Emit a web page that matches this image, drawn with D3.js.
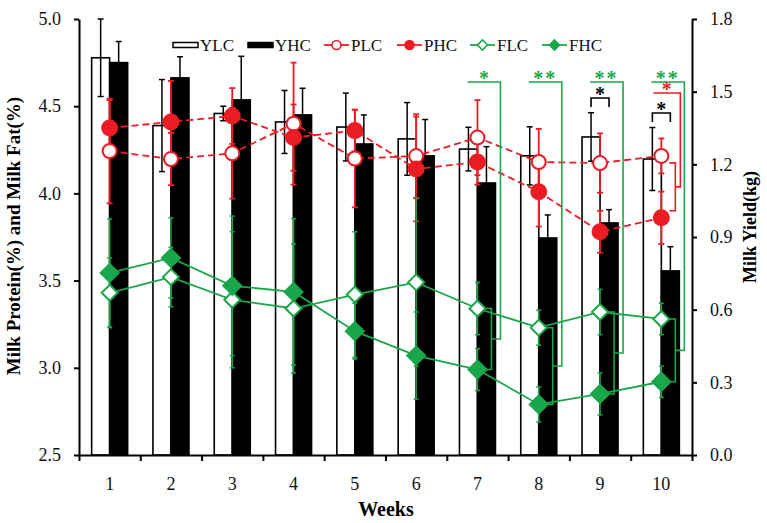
<!DOCTYPE html>
<html>
<head>
<meta charset="utf-8">
<script src="https://cdn.jsdelivr.net/npm/d3@7"></script>
<style>
body { margin: 0; background: #fff; }
text { font-family: "Liberation Serif", "Times New Roman", serif; }
</style>
</head>
<body>
<div id="chart"></div>
<script>
// values
var weeks = [1, 2, 3, 4, 5, 6, 7, 8, 9, 10];

// milk yield (kg), right axis
var ylc    = [1.64, 1.36, 1.41, 1.375, 1.354, 1.305, 1.263, 1.235, 1.313, 1.222];
var ylcErr = [0.16, 0.19, 0.03, 0.13, 0.14, 0.15, 0.09, 0.12, 0.10, 0.13];
var yhc    = [1.62, 1.557, 1.466, 1.404, 1.284, 1.235, 1.123, 0.896, 0.958, 0.76];
var yhcErr = [0.087, 0.087, 0.18, 0.11, 0.12, 0.15, 0.15, 0.095, 0.055, 0.10];

// milk protein / milk fat (%), left axis
var plc    = [4.243, 4.197, 4.23, 4.40, 4.20, 4.214, 4.32, 4.18, 4.174, 4.215];
var plcErr = [0.30, 0.15, 0.26, 0.35, 0.28, 0.24, 0.215, 0.19, 0.17, 0.10];
var phc    = [4.375, 4.41, 4.444, 4.32, 4.36, 4.14, 4.18, 4.01, 3.78, 3.86];
var phcErr = [0.16, 0.235, 0.16, 0.19, 0.12, 0.30, 0.13, 0.20, 0.12, 0.15];
var flc    = [3.43, 3.52, 3.39, 3.34, 3.42, 3.49, 3.34, 3.23, 3.32, 3.28];
var flcErr = [0.20, 0.17, 0.39, 0.37, 0.36, 0.48, 0.15, 0.10, 0.13, 0.09];
var fhc    = [3.544, 3.63, 3.47, 3.435, 3.21, 3.07, 2.99, 2.79, 2.85, 2.92];
var fhcErr = [0.31, 0.23, 0.40, 0.42, 0.16, 0.25, 0.12, 0.10, 0.12, 0.09];

// significance marks
var fatSigWeeks = [7, 8, 9, 10];
var fatSigLabels = ["*", "**", "**", "**"];
var proSigWeeks = [10];
var proSigLabels = ["*"];
var yieldSigWeeks = [9, 10];
var yieldSigLabels = ["*", "*"];

var leftTicks = [2.5, 3.0, 3.5, 4.0, 4.5, 5.0];
var rightTicks = [0.0, 0.3, 0.6, 0.9, 1.2, 1.5, 1.8];
var legendKeys = ["YLC", "YHC", "PLC", "PHC", "FLC", "FHC"];

var red = "#ec1c24";
var green = "#1aa64a";

var svg = d3.select("#chart").append("svg")
    .attr("width", 767)
    .attr("height", 523);

var plotLeft = 79, plotRight = 692, plotTop = 19, plotBottom = 455;

var x = d3.scaleBand().domain(weeks).range([plotLeft, plotRight]);
var xb = d3.scaleLinear().domain([0, weeks.length]).range([plotLeft, plotRight]);
var yL = d3.scaleLinear().domain([2.5, 5.0]).range([plotBottom, plotTop]);
var yR = d3.scaleLinear().domain([0, 1.8]).range([plotBottom, plotTop]);

var barW = 18;
function cx(w) { return x(w) + x.bandwidth() / 2; }

// bars
svg.append("g").selectAll("rect").data(weeks).enter().append("rect")
    .attr("x", function (w) { return cx(w) - barW; })
    .attr("y", function (w, i) { return yR(ylc[i]); })
    .attr("width", barW)
    .attr("height", function (w, i) { return plotBottom - yR(ylc[i]); })
    .attr("fill", "#fff").attr("stroke", "#000").attr("stroke-width", 1.6);

svg.append("g").selectAll("rect").data(weeks).enter().append("rect")
    .attr("x", function (w) { return cx(w); })
    .attr("y", function (w, i) { return yR(yhc[i]); })
    .attr("width", barW)
    .attr("height", function (w, i) { return plotBottom - yR(yhc[i]); })
    .attr("fill", "#000").attr("stroke", "#000").attr("stroke-width", 1.6);

function errBars(xoff, vals, errs, scale, color, width, cap) {
    var g = svg.append("g").attr("stroke", color).attr("stroke-width", width);
    weeks.forEach(function (w, i) {
        var px = cx(w) + xoff;
        var y1 = scale(vals[i] + errs[i]), y2 = scale(vals[i] - errs[i]);
        g.append("line").attr("x1", px).attr("x2", px).attr("y1", y1).attr("y2", y2);
        g.append("line").attr("x1", px - cap).attr("x2", px + cap).attr("y1", y1).attr("y2", y1);
        g.append("line").attr("x1", px - cap).attr("x2", px + cap).attr("y1", y2).attr("y2", y2);
    });
}

errBars(-barW / 2, ylc, ylcErr, yR, "#000", 1.5, 3);
errBars(barW / 2, yhc, yhcErr, yR, "#000", 1.5, 3);
errBars(0, plc, plcErr, yL, red, 1.8, 3);
errBars(0, phc, phcErr, yL, red, 1.8, 3);
errBars(0, flc, flcErr, yL, green, 1.5, 2.5);
errBars(0, fhc, fhcErr, yL, green, 1.5, 2.5);

// lines
function seriesLine(vals, color, dash) {
    var line = d3.line()
        .x(function (w) { return cx(w); })
        .y(function (w, i) { return yL(vals[i]); });
    svg.append("path").datum(weeks)
        .attr("d", line)
        .attr("fill", "none")
        .attr("stroke", color)
        .attr("stroke-width", 1.8)
        .attr("stroke-dasharray", dash);
}
seriesLine(flc, green, null);
seriesLine(fhc, green, null);
seriesLine(plc, red, "7,4");
seriesLine(phc, red, "7,4");

function diamond(r) {
    return "M0," + (-r) + "L" + r + ",0L0," + r + "L" + (-r) + ",0Z";
}

function markers(vals, shape, color, filled, r) {
    var g = svg.append("g");
    weeks.forEach(function (w, i) {
        var m;
        if (shape == "circle") {
            m = g.append("circle").attr("cx", cx(w)).attr("cy", yL(vals[i])).attr("r", r);
        } else {
            m = g.append("path").attr("d", diamond(r))
                .attr("transform", "translate(" + cx(w) + "," + yL(vals[i]) + ")");
        }
        m.attr("fill", filled ? color : "#fff").attr("stroke", color).attr("stroke-width", 2);
    });
}
markers(flc, "diamond", green, false, 8);
markers(fhc, "diamond", green, true, 9);
markers(plc, "circle", red, false, 7);
markers(phc, "circle", red, true, 7.5);

// significance brackets
function star(px, py, label, color) {
    svg.append("text")
        .attr("x", px).attr("y", py + 3)
        .attr("text-anchor", "middle")
        .attr("font-size", 20)
        .attr("font-weight", "bold")
        .attr("letter-spacing", label.length > 1 ? 2 : 0)
        .attr("fill", color)
        .text(label);
}

function pairBracket(w, a, b, color, topY, inner, outer, startOff, trim, label) {
    var c = cx(w);
    var ya = yL(a) + trim, yb = yL(b) - trim, ym = (ya + yb) / 2;
    var p = d3.path();
    p.moveTo(c - startOff, topY); p.lineTo(c + outer, topY); p.lineTo(c + outer, ym); p.lineTo(c + inner, ym);
    p.moveTo(c + 8, ya); p.lineTo(c + inner, ya); p.lineTo(c + inner, yb); p.lineTo(c + 8, yb);
    svg.append("path").attr("d", p.toString())
        .attr("fill", "none").attr("stroke", color).attr("stroke-width", 1.6);
    star(c + (outer - startOff) / 2, topY, label, color);
}

fatSigWeeks.forEach(function (w, k) {
    var i = weeks.indexOf(w);
    pairBracket(w, flc[i], fhc[i], green, 82, 14, 23, 10, 0, fatSigLabels[k]);
});
proSigWeeks.forEach(function (w, k) {
    var i = weeks.indexOf(w);
    pairBracket(w, plc[i], phc[i], red, 93, 14, 19, 8, 7, proSigLabels[k]);
});

var yieldTopY = [98, 113];
yieldSigWeeks.forEach(function (w, k) {
    var c = cx(w), ty = yieldTopY[k];
    var p = d3.path();
    p.moveTo(c - barW / 2, ty + 9); p.lineTo(c - barW / 2, ty); p.lineTo(c + barW / 2, ty); p.lineTo(c + barW / 2, ty + 9);
    svg.append("path").attr("d", p.toString())
        .attr("fill", "none").attr("stroke", "#000").attr("stroke-width", 1.6);
    star(c, ty, yieldSigLabels[k], "#000");
});

// axes
function styleAxis(g) {
    g.selectAll("path.domain").attr("stroke", "#000").attr("stroke-width", 2);
    g.selectAll(".tick line").attr("stroke", "#000").attr("stroke-width", 2);
    g.selectAll("text").attr("font-size", 18).attr("fill", "#111")
        .attr("font-family", "'Liberation Serif', 'Times New Roman', serif");
}

svg.append("g").attr("transform", "translate(" + plotLeft + ",0)")
    .call(d3.axisLeft(yL).tickValues(leftTicks).tickFormat(d3.format(".1f"))
        .tickSize(5).tickSizeOuter(0).tickPadding(13))
    .call(styleAxis);

svg.append("g").attr("transform", "translate(" + plotRight + ",0)")
    .call(d3.axisRight(yR).tickValues(rightTicks).tickFormat(d3.format(".1f"))
        .tickSize(5).tickSizeOuter(0).tickPadding(13))
    .call(styleAxis);

svg.append("g").attr("transform", "translate(0," + plotBottom + ")")
    .call(d3.axisBottom(xb).ticks(weeks.length).tickFormat("").tickSize(6).tickSizeOuter(0))
    .call(styleAxis);

svg.append("g").attr("transform", "translate(0," + plotBottom + ")")
    .call(d3.axisBottom(x).tickSize(0).tickPadding(22))
    .call(styleAxis)
    .call(function (g) { g.select(".domain").remove(); });

// axis titles
svg.append("text")
    .attr("transform", "translate(20,236) rotate(-90)")
    .attr("text-anchor", "middle")
    .attr("font-size", 19).attr("font-weight", "bold")
    .text("Milk Protein(%) and Milk Fat(%)");

svg.append("text")
    .attr("transform", "translate(756,227) rotate(-90)")
    .attr("text-anchor", "middle")
    .attr("font-size", 18).attr("font-weight", "bold")
    .text("Milk Yield(kg)");

svg.append("text")
    .attr("x", 386).attr("y", 516)
    .attr("text-anchor", "middle")
    .attr("font-size", 20).attr("font-weight", "bold")
    .text("Weeks");

// legend
var legendX = [173, 248, 324, 397, 470, 542];
var legendY = 45;
legendKeys.forEach(function (key, k) {
    var lx = legendX[k], kw;
    if (k < 2) {
        kw = 25;
        svg.append("rect").attr("x", lx).attr("y", legendY - 2.5).attr("width", kw).attr("height", 5)
            .attr("fill", k == 0 ? "#fff" : "#000").attr("stroke", "#000").attr("stroke-width", 1.5);
    } else {
        kw = 25;
        var col = k < 4 ? red : green;
        svg.append("line").attr("x1", lx).attr("x2", lx + kw).attr("y1", legendY).attr("y2", legendY)
            .attr("stroke", col).attr("stroke-width", 1.8);
        var m;
        if (k < 4) {
            m = svg.append("circle").attr("cx", lx + kw / 2).attr("cy", legendY).attr("r", 4.5);
        } else {
            m = svg.append("path").attr("d", diamond(5))
                .attr("transform", "translate(" + (lx + kw / 2) + "," + legendY + ")");
        }
        m.attr("fill", k % 2 == 0 ? "#fff" : col).attr("stroke", col).attr("stroke-width", 1.6);
    }
    svg.append("text").attr("x", lx + kw + 2).attr("y", legendY + 6)
        .attr("font-size", 17).attr("fill", "#111")
        .text(key);
});
</script>
</body>
</html>
